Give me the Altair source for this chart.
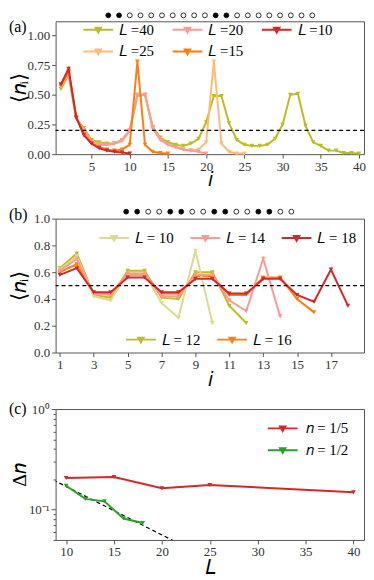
import altair as alt
import pandas as pd

FONT = "Liberation Serif"
W = 311
HA, HB, HC = 134, 135, 132

# ---------------- panel (a) data ----------------
a_L40 = [0.55, 0.67, 0.30, 0.22, 0.12, 0.10, 0.09, 0.09, 0.12, 0.20,
         0.49, 0.50, 0.23, 0.14, 0.10, 0.08, 0.07, 0.09, 0.13, 0.27,
         0.49, 0.49, 0.26, 0.12, 0.08, 0.07, 0.07, 0.08, 0.13, 0.25,
         0.50, 0.51, 0.24, 0.10, 0.07, 0.03, 0.03, 0.01, 0.01, 0.005]
a_L20 = [0.57, 0.69, 0.30, 0.20, 0.10, 0.08, 0.08, 0.09, 0.12, 0.20,
         0.50, 0.50, 0.22, 0.12, 0.08, 0.06, 0.04, 0.03, 0.02, 0.005]
a_L10 = [0.59, 0.72, 0.31, 0.16, 0.09, 0.05, 0.03, 0.02, 0.015, 0.005]
a_L25 = [0.57, 0.69, 0.30, 0.20, 0.10, 0.08, 0.08, 0.09, 0.11, 0.20,
         0.50, 0.50, 0.22, 0.13, 0.08, 0.06, 0.04, 0.03, 0.04, 0.10,
         0.78, 0.09, 0.02, 0.005, 0.005]
a_L15 = [0.58, 0.70, 0.31, 0.17, 0.09, 0.06, 0.04, 0.03, 0.04, 0.08,
         0.78, 0.08, 0.02, 0.01, 0.005]
# legend order (filled column by column: 40,25 | 20,15 | 10)
a_names = ["𝐿 =40", "𝐿 =25", "𝐿 =20", "𝐿 =15", "𝐿 =10"]
a_colors = ["#bcbd22", "#ffbb78", "#ff9896", "#ff7f0e", "#d62728"]
a_values = [a_L40, a_L25, a_L20, a_L15, a_L10]
a_draw_order = ["𝐿 =40", "𝐿 =25", "𝐿 =20", "𝐿 =15", "𝐿 =10"]
a_dots = [1, 1, 0, 0, 0, 0, 0, 0, 0, 0, 1, 1, 0, 0, 0, 0, 0, 0, 0, 0]
a_ref = 0.2
a_xticks = [5, 10, 15, 20, 25, 30, 35, 40]
a_yticks = [0.0, 0.25, 0.5, 0.75, 1.0]

# ---------------- panel (b) data ----------------
b_L10 = [0.62, 0.72, 0.42, 0.39, 0.59, 0.59, 0.37, 0.26, 0.76, 0.22]
b_L12 = [0.63, 0.74, 0.43, 0.41, 0.61, 0.61, 0.41, 0.40, 0.60, 0.60, 0.35, 0.22]
b_L14 = [0.61, 0.70, 0.44, 0.43, 0.59, 0.59, 0.42, 0.42, 0.58, 0.58, 0.39, 0.31,
         0.70, 0.27]
b_L16 = [0.60, 0.66, 0.44, 0.44, 0.58, 0.58, 0.44, 0.44, 0.57, 0.57, 0.43, 0.43,
         0.56, 0.56, 0.40, 0.30]
b_L18 = [0.58, 0.63, 0.45, 0.45, 0.56, 0.56, 0.45, 0.45, 0.55, 0.55, 0.44, 0.44,
         0.55, 0.55, 0.43, 0.38, 0.62, 0.35]
b_names_top = ["𝐿 = 10", "𝐿 = 14", "𝐿 = 18"]
b_colors_top = ["#dbdb8d", "#ff9896", "#d62728"]
b_values_top = [b_L10, b_L14, b_L18]
b_names_bottom = ["𝐿 = 12", "𝐿 = 16"]
b_colors_bottom = ["#bcbd22", "#ff7f0e"]
b_values_bottom = [b_L12, b_L16]
b_dots = [1, 1, 0, 0, 1, 1, 0, 0, 1, 1, 0, 0, 1, 1, 0, 0]
b_ref = 0.5
b_xticks = [1, 3, 5, 7, 9, 11, 13, 15, 17]
b_yticks = [0.0, 0.2, 0.4, 0.6, 0.8, 1.0]

# ---------------- panel (c) data ----------------
c_L_fifth = [10, 15, 20, 25, 40]
c_dn_fifth = [0.206, 0.211, 0.163, 0.176, 0.149]
c_L_half = [10, 12, 14, 16, 18]
c_dn_half = [0.173, 0.128, 0.121, 0.0816, 0.0736]
c_names = ["𝑛 = 1/5", "𝑛 = 1/2"]
c_colors = ["#d62728", "#2ca02c"]
c_fit_L = [8, 24]
c_fit_dn = [0.212, 0.036]
c_xticks = [10, 15, 20, 25, 30, 35, 40]
c_yticks = [0.05, 0.06, 0.07, 0.08, 0.09, 0.1, 0.2, 0.3, 0.4, 0.5, 0.6, 0.7,
            0.8, 0.9, 1.0]

MARKER = "M-1.5,0H1.5M-0.27,-0.2L0.27,-0.2L0,0.27Z"


def to_df(vals, name, xs=None):
    if xs is None:
        xs = list(range(1, len(vals) + 1))
    return pd.DataFrame({"x": xs, "y": vals, "s": name})


def make_legend(lx, ly, cols, col_pad=12, label_off=10):
    return alt.Legend(title=None, orient="none", legendX=lx, legendY=ly,
                      columns=cols, symbolType=MARKER, symbolSize=400,
                      symbolStrokeWidth=2, labelFont=FONT, labelFontSize=15,
                      labelColor="black", labelOffset=label_off,
                      columnPadding=col_pad, rowPadding=3, padding=0)


def x_enc(dom, vals, title, fmt="d", titley=26):
    return alt.X("x:Q", scale=alt.Scale(domain=dom, nice=False, zero=False),
                 axis=alt.Axis(values=vals, format=fmt, title=title,
                               titleY=titley, titleBaseline="middle"))


def y_enc(dom, vals, title, h, fmt=None, log=False, label_expr=None, tick=None, tsize=21):
    kw = dict(values=vals, title=title, titleX=-36, titleY=h / 2,
              titleBaseline="middle", titleAngle=270, titleFontSize=tsize)
    if fmt:
        kw["format"] = fmt
    if label_expr:
        kw["labelExpr"] = label_expr
    if tick is not None:
        kw["tickSize"] = tick
    sc = alt.Scale(domain=dom, nice=False, zero=False, type="log") if log else \
        alt.Scale(domain=dom, nice=False, zero=False)
    return alt.Y("y:Q", scale=sc, axis=alt.Axis(**kw))


def series(df, xe, ye, ce):
    return alt.Chart(df).mark_line(
        strokeWidth=2,
        point=alt.OverlayMarkDef(shape="triangle-down", filled=True, size=22, opacity=1),
    ).encode(x=xe, y=ye, color=ce)


def dots_layer(flags, dom, yv):
    df = pd.DataFrame({"k": list(range(1, len(flags) + 1)), "f": flags})
    return alt.Chart(df).mark_point(shape="circle", size=24, filled=True,
                                    stroke="black", strokeWidth=0.8, opacity=1).encode(
        x=alt.X("k:Q", scale=alt.Scale(domain=dom, nice=False, zero=False), axis=None),
        y=alt.value(yv),
        fill=alt.Fill("f:N", scale=alt.Scale(domain=[0, 1], range=["white", "black"]),
                      legend=None),
    )


def panel_label(t, yv):
    return alt.Chart(pd.DataFrame({"t": [t]})).mark_text(
        align="left", baseline="middle", font=FONT, fontSize=16, color="black"
    ).encode(text="t:N", x=alt.value(-47), y=alt.value(yv))


def ref_rule(val, ye):
    return alt.Chart(pd.DataFrame({"y": [val]})).mark_rule(
        color="black", strokeDash=[4, 3], strokeWidth=1.2).encode(y=ye)


# ---------------- panel (a) ----------------
xa = x_enc([0.3, 40.65], a_xticks, "𝑖")
ya = y_enc([0, 1.12], a_yticks, "⟨𝑛ᵢ⟩", HA, fmt=".2f")
ca = alt.Color("s:N", scale=alt.Scale(domain=a_names, range=a_colors),
               legend=make_legend(32, -2.5, 3, col_pad=14))
a_map = dict(zip(a_names, a_values))
a_layers = [series(to_df(a_map[n], n), xa, ya, ca) for n in a_draw_order]
a_main = alt.layer(*a_layers, ref_rule(a_ref, ya))
chart_a = alt.layer(a_main, dots_layer(a_dots, [-3.91, 24.82], -6),
                    panel_label("(a)", 6)).resolve_scale(x="independent").properties(
    width=W, height=HA)

# ---------------- panel (b) ----------------
xb = x_enc([0.75, 18.95], b_xticks, "𝑖", titley=27)
yb = y_enc([0, 1.0], b_yticks, "⟨𝑛ᵢ⟩", HB, fmt=".1f")
cb_top = alt.Color("s:N", scale=alt.Scale(domain=b_names_top, range=b_colors_top),
                   legend=make_legend(48, 8.5, 3, col_pad=13))
cb_bot = alt.Color("s:N", scale=alt.Scale(domain=b_names_bottom, range=b_colors_bottom),
                   legend=make_legend(75, 111, 2, col_pad=13))
b_bot = alt.layer(*[series(to_df(v, n), xb, yb, cb_bot)
                    for n, v in zip(b_names_bottom, b_values_bottom)])
b_top = alt.layer(*[series(to_df(v, n), xb, yb, cb_top)
                    for n, v in zip(b_names_top, b_values_top)])
b_main = alt.layer(b_bot, b_top, ref_rule(b_ref, yb)).resolve_scale(color="independent")
chart_b = alt.layer(b_main, dots_layer(b_dots, [-5.41, 22.6], -7),
                    panel_label("(b)", -4)).resolve_scale(x="independent").properties(
    width=W, height=HB)

# ---------------- panel (c) ----------------
xc = x_enc([8.9, 41.1], c_xticks, "𝐿", titley=28)
yc = y_enc([0.05, 1.0], c_yticks, "Δ𝑛", HC, log=True, tsize=20,
           label_expr="datum.value == 1 ? '10⁰' : (abs(datum.value - 0.1) < 1e-9 ? '10⁻¹' : '')",
           tick={"condition": {"test": "datum.value == 1 || abs(datum.value - 0.1) < 1e-9",
                               "value": 4.5}, "value": 2.5})
cc = alt.Color("s:N", scale=alt.Scale(domain=c_names, range=c_colors),
               legend=make_legend(218, 8.5, 1, label_off=12))
c_fit = alt.Chart(to_df(c_fit_dn, "fit", c_fit_L)).mark_line(
    color="black", strokeDash=[4, 3], strokeWidth=1.2, clip=True).encode(x=xc, y=yc)
chart_c = alt.layer(
    c_fit,
    series(to_df(c_dn_fifth, c_names[0], c_L_fifth), xc, yc, cc),
    series(to_df(c_dn_half, c_names[1], c_L_half), xc, yc, cc),
    panel_label("(c)", 0),
).properties(width=W, height=HC)

lower = alt.vconcat(chart_b, chart_c, spacing=10).resolve_scale(color="independent")
chart = alt.vconcat(chart_a, lower, spacing=15).resolve_scale(
    color="independent"
).properties(
    padding={"left": 0, "top": 0, "right": 0, "bottom": 0}
).configure_view(stroke="#555", strokeWidth=1).configure_axis(
    labelFont=FONT, labelFontSize=13, labelColor="#333", labelPadding=2,
    tickColor="#555", tickSize=4, domain=False, grid=False,
    titleFont=FONT, titleFontSize=20, titleFontWeight="normal", titleColor="black",
    labelFlush=False, labelOverlap=False,
)

chart.save("out.html", embed_options={"renderer": "svg", "actions": False})
